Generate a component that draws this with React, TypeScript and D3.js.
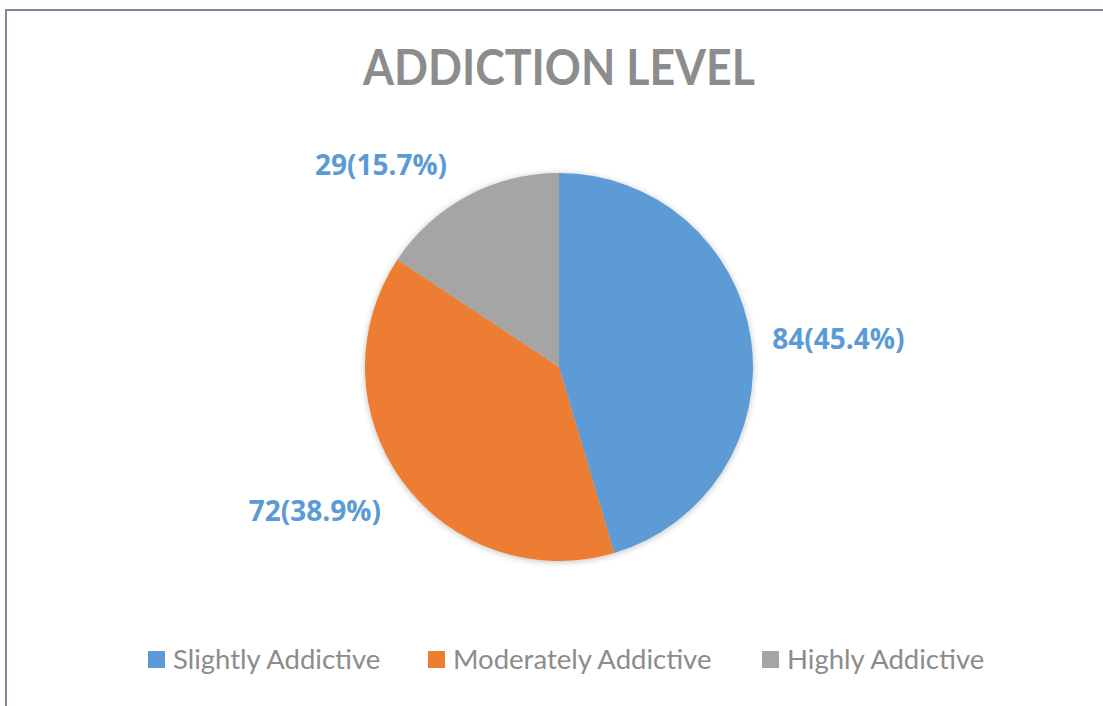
import React from "react";
import * as d3 from "d3";

const categories = ["Slightly Addictive", "Moderately Addictive", "Highly Addictive"];
const counts = [84, 72, 29];
const percents = ["45.4%", "38.9%", "15.7%"];
const colors = ["#5b9bd5", "#ed7d31", "#a5a5a5"];
const title = "ADDICTION LEVEL";

const W = 1103;
const H = 706;
const cx = 559;
const cy = 367;
const R = 194;
// label nudges (Excel best-fit placement)
const labelK = 1.45;
const labelNudge: [number, number][] = [
  [1, 11],
  [-18, -24],
  [-45, 45],
];

export default function App() {
  const pie = d3.pie<number>().sort(null).value((d) => d);
  const arcs = pie(counts);
  const arc = d3.arc<d3.PieArcDatum<number>>().innerRadius(0).outerRadius(R);

  const legendX = d3.scaleOrdinal<string, number>().domain(categories).range([148, 428, 762]);

  return (
    <svg
      width={W}
      height={H}
      style={{ position: "absolute", left: 0, top: 0, background: "#fff" }}
    >
      <defs>
        <filter id="sh" x="-20%" y="-20%" width="140%" height="140%">
          <feDropShadow dx="0" dy="1" stdDeviation="3" floodColor="#000" floodOpacity="0.25" />
        </filter>
      </defs>
      <rect x={0} y={0} width={W} height={H} fill="#fff" />
      <rect x={6} y={10} width={W + 20} height={H + 20} fill="#fff" stroke="#7d8798" strokeWidth={2} />
      <text
        x={cx}
        y={85}
        textAnchor="middle"
        fontFamily="Lato, 'Open Sans', sans-serif"
        fontWeight="bold"
        fontSize={50}
        textLength={392}
        lengthAdjust="spacingAndGlyphs"
        fill="#8c8c8c"
      >
        {title}
      </text>
      <g transform={`translate(${cx},${cy})`} filter="url(#sh)">
        {arcs.map((a, i) => (
          <path key={i} d={arc(a) || ""} fill={colors[i]} />
        ))}
      </g>
      {arcs.map((a, i) => {
        const mid = (a.startAngle + a.endAngle) / 2;
        const x = cx + Math.sin(mid) * R * labelK + labelNudge[i][0];
        const y = cy - Math.cos(mid) * R * labelK + labelNudge[i][1];
        return (
          <text
            key={i}
            x={x}
            y={y}
            textAnchor="middle"
            dominantBaseline="central"
            fontFamily="'Open Sans', Lato, sans-serif"
            fontWeight="bold"
            fontSize={28}
            fill="#5b9bd5"
          >
            {`${counts[i]}(${percents[i]})`}
          </text>
        );
      })}
      {categories.map((c, i) => (
        <g key={c} transform={`translate(${legendX(c)},651)`}>
          <rect x={0} y={0} width={17} height={17} fill={colors[i]} />
          <text
            x={25}
            y={18}
            fontFamily="Lato, 'Open Sans', sans-serif"
            fontSize={27.5}
            fill="#8c8c8c"
          >
            {c}
          </text>
        </g>
      ))}
    </svg>
  );
}
